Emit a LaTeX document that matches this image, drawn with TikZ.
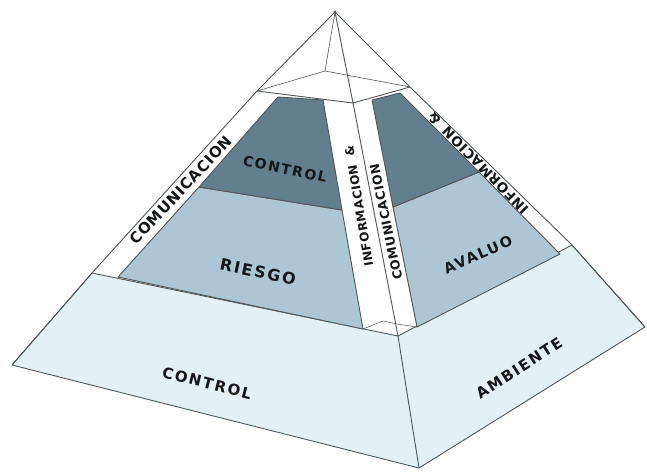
\documentclass[tikz,border=0pt]{standalone}
\usepackage{fontspec}
\usepackage{xcolor}
\usepackage{tikz}
\usetikzlibrary{calc}

\newfontfamily\capsfont[LetterSpace=12]{DejaVu Sans}
\newfontfamily\stripfont[LetterSpace=5]{DejaVu Sans}

\definecolor{darkface}{RGB}{98,127,141}
\definecolor{midface}{RGB}{172,198,212}
\definecolor{baseface}{RGB}{227,241,246}
\definecolor{edgec}{RGB}{80,86,88}
\definecolor{inkc}{RGB}{20,22,24}

\begin{document}
\begin{tikzpicture}[x=1pt, y=-1pt,
  face/.style={draw=edgec, line width=0.9pt, line join=round},
  lbl/.style={text=inkc, inner sep=0pt, font=\capsfont\bfseries\fontsize{#1}{#1}\selectfont},
  striplbl/.style={text=inkc, inner sep=0pt, font=\stripfont\bfseries\fontsize{#1}{#1}\selectfont}]
  \useasboundingbox (0,0) rectangle (647,474);

  % corners of the pyramid
  \coordinate (apex) at (335,12);
  \coordinate (capL) at (257,91);
  \coordinate (capB) at (325,71);
  \coordinate (capR) at (410,87);
  \coordinate (capF) at (353,103);
  \coordinate (lTop) at (92,273);
  \coordinate (lIn) at (118,277);
  \coordinate (lInTop) at (278,97);
  \coordinate (dkL) at (199,187);
  \coordinate (cL1) at (323,100);
  \coordinate (cL2) at (342,210);
  \coordinate (cL3) at (363,329);
  \coordinate (cR1) at (372,100);
  \coordinate (cR2) at (393,207);
  \coordinate (cR3) at (417,327);
  \coordinate (rInTop) at (400,93);
  \coordinate (dkR) at (479,172);
  \coordinate (rIn) at (560,254);
  \coordinate (rTop) at (572,245);
  \coordinate (front) at (398,336);
  \coordinate (lBase) at (12,365);
  \coordinate (bBase) at (419,468);
  \coordinate (rBase) at (645,327);

  % white strips and cap
  \fill[white] (apex) -- (capL) -- (lTop) -- (front) -- (rTop) -- (capR) -- cycle;

  % base: ambiente de control
  \draw[face, fill=baseface] (lTop) -- (front) -- (rTop) -- (rBase) -- (bBase) -- (lBase) -- cycle;
  \draw[face] (front) -- (bBase);

  % middle: riesgo / avaluo
  \draw[face, fill=midface] (dkL) -- (cL2) -- (cL3) -- (lIn) -- cycle;
  \draw[face, fill=midface] (cR2) -- (dkR) -- (rIn) -- (cR3) -- cycle;

  % top: control
  \draw[face, fill=darkface] (lInTop) -- (cL1) -- (cL2) -- (dkL) -- cycle;
  \draw[face, fill=darkface] (cR1) -- (rInTop) -- (dkR) -- (cR2) -- cycle;

  % outline, front edge and cap
  \draw[face] (apex) -- (capL) -- (lTop) -- (lBase);
  \draw[face] (apex) -- (capR) -- (rTop) -- (rBase);
  \draw[face] (capL) -- (capF) -- (capR);
  \draw[face, line width=0.6pt] (capL) -- (capB) -- (capR);
  \draw[face, line width=0.6pt] (apex) -- (capB);
  \draw[face] (apex) -- (capF) -- (front);
  \draw[face, line width=0.5pt] (cL3) -- (383,321) -- (397,324) -- (cR3);
  \fill[edgec] (apex) circle (1.6);

  % strip labels
  \node[striplbl=15, rotate=47] (comL) at (181,190) {COMUNICACION};
  \node[striplbl=12, rotate=99.5] (infC) at (359,206) {INFORMACION\hspace{9pt}\&};
  \node[striplbl=12.5, rotate=101.8] (comC) at (386,222) {COMUNICACION};
  \node[striplbl=13.5, rotate=134.5] (infR) at (478,163) {INFORMACION\hspace{9pt}\&};

  % face labels
  \node[lbl=14, rotate=-12] (ctrlTop) at (285,169) {CONTROL};
  \node[lbl=16, rotate=-12] (riesgo) at (258,272) {RIESGO};
  \node[lbl=14.5, rotate=24] (avaluo) at (478,255) {AVALUO};
  \node[lbl=15, rotate=-14] (ctrlBase) at (207,383) {CONTROL};
  \node[lbl=15, rotate=33] (ambiente) at (519,368) {AMBIENTE};
\end{tikzpicture}
\end{document}
